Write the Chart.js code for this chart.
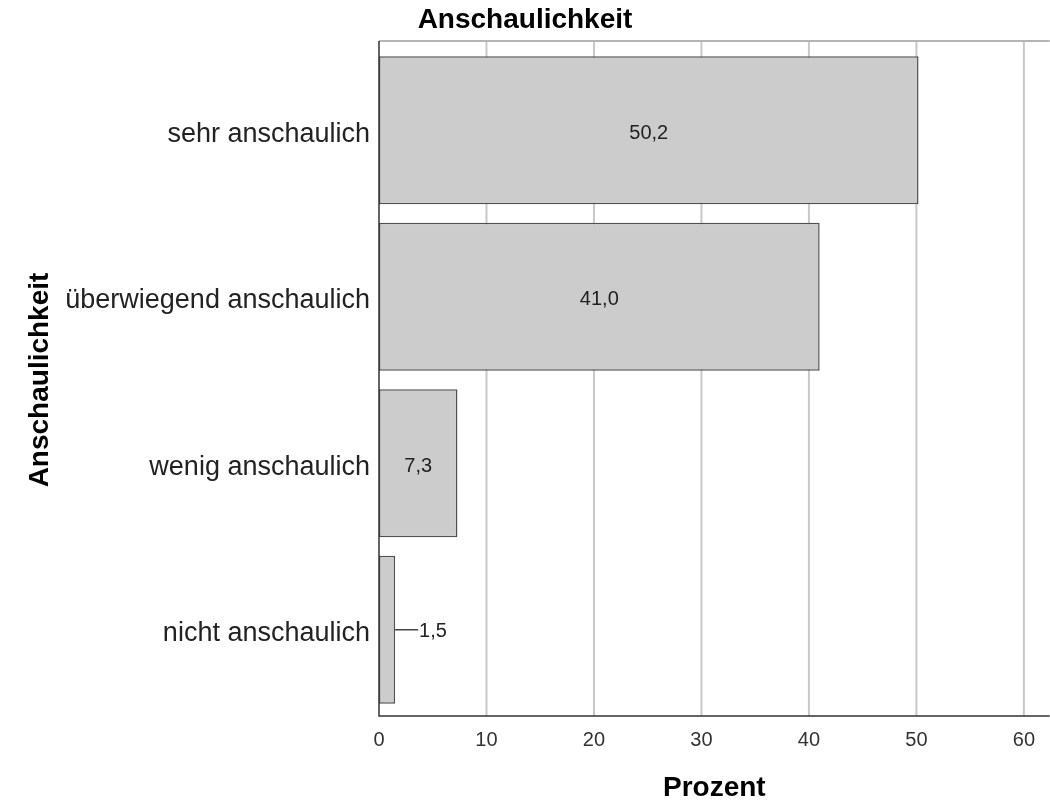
<!DOCTYPE html>
<html>
<head>
<meta charset="utf-8">
<script src="https://cdn.jsdelivr.net/npm/chart.js@4"></script>
<style>
  html, body { margin: 0; padding: 0; background: #fff; }
  #chart { display: block; }
</style>
</head>
<body>
<canvas id="chart" width="1050" height="803"></canvas>
<script>
const categories = ['sehr anschaulich', 'überwiegend anschaulich', 'wenig anschaulich', 'nicht anschaulich'];
const percentValues = [50.2, 41.0, 7.3, 1.5];
const xTicks = [0, 10, 20, 30, 40, 50, 60];
const xMax = 62.4;

const FONT = '"Liberation Sans", Arial, sans-serif';

function formatDe(v) {
  return v.toFixed(1).replace('.', ',');
}

// SPSS-like frame: grid lines a bit taller than the bars area, axes on top
const framePlugin = {
  id: 'frame',
  beforeDatasetsDraw(chart) {
    const { ctx, chartArea: a, scales: { x } } = chart;
    const top = a.top - 6, bottom = a.bottom + 3;
    ctx.save();
    ctx.lineWidth = 2;
    ctx.strokeStyle = '#c8c8c8';
    xTicks.forEach(v => {
      if (v === 0) return;
      const px = x.getPixelForValue(v);
      ctx.beginPath();
      ctx.moveTo(px, top);
      ctx.lineTo(px, bottom);
      ctx.stroke();
    });
    ctx.strokeStyle = '#b4b4b4';
    ctx.beginPath();
    ctx.moveTo(a.left, top);
    ctx.lineTo(a.right, top);
    ctx.stroke();
    ctx.restore();
  },
  afterDatasetsDraw(chart) {
    const { ctx, chartArea: a } = chart;
    const top = a.top - 6, bottom = a.bottom + 3;
    ctx.save();
    // axis lines
    ctx.strokeStyle = '#333';
    ctx.lineWidth = 1.5;
    ctx.beginPath();
    ctx.moveTo(a.left, top);
    ctx.lineTo(a.left, bottom);
    ctx.lineTo(a.right, bottom);
    ctx.stroke();

    // value labels
    const meta = chart.getDatasetMeta(0);
    ctx.font = '20px ' + FONT;
    ctx.fillStyle = '#222';
    ctx.textBaseline = 'middle';
    meta.data.forEach((bar, i) => {
      const txt = formatDe(percentValues[i]);
      const w = bar.x - bar.base;
      if (w > 50) {
        ctx.textAlign = 'center';
        ctx.fillText(txt, (bar.x + bar.base) / 2, bar.y + 3);
      } else {
        ctx.strokeStyle = '#444';
        ctx.lineWidth = 1.5;
        ctx.beginPath();
        ctx.moveTo(bar.x, bar.y);
        ctx.lineTo(bar.x + 23, bar.y);
        ctx.stroke();
        ctx.textAlign = 'left';
        ctx.fillText(txt, bar.x + 24, bar.y + 2);
      }
    });
    ctx.restore();
  }
};

new Chart(document.getElementById('chart'), {
  type: 'bar',
  data: {
    labels: categories,
    datasets: [{
      data: percentValues,
      backgroundColor: '#cccccc',
      borderColor: '#505050',
      borderWidth: 1.5,
      borderSkipped: false,
      categoryPercentage: 1,
      barPercentage: 0.889
    }]
  },
  options: {
    indexAxis: 'y',
    responsive: false,
    animation: false,
    layout: { padding: 0 },
    plugins: {
      legend: { display: false },
      tooltip: { enabled: false },
      title: {
        display: true,
        text: 'Anschaulichkeit',
        color: '#000',
        font: { family: FONT, size: 28, weight: 'bold' },
        padding: { top: 3, bottom: 10.4 }
      }
    },
    scales: {
      x: {
        type: 'linear',
        min: 0,
        max: xMax,
        grid: { display: false, drawTicks: false },
        border: { display: false },
        afterBuildTicks(scale) {
          scale.ticks = xTicks.map(v => ({ value: v }));
        },
        afterFit(scale) {
          scale.height = 90;
        },
        ticks: {
          color: '#333',
          padding: 15,
          font: { family: FONT, size: 20 },
          callback: v => String(v)
        },
        title: {
          display: true,
          text: 'Prozent',
          color: '#000',
          font: { family: FONT, size: 28, weight: 'bold', lineHeight: 1 },
          padding: { top: 0, bottom: 0.5 }
        }
      },
      y: {
        grid: { display: false, drawTicks: false },
        border: { display: false },
        afterFit(scale) {
          scale.width = 379;
        },
        ticks: {
          color: '#222',
          padding: 9,
          labelOffset: 4,
          font: { family: FONT, size: 27 }
        },
        title: {
          display: true,
          text: 'Anschaulichkeit',
          color: '#000',
          font: { family: FONT, size: 28, weight: 'bold' },
          padding: { top: 23, bottom: 0 }
        }
      }
    }
  },
  plugins: [framePlugin]
});
</script>
</body>
</html>
